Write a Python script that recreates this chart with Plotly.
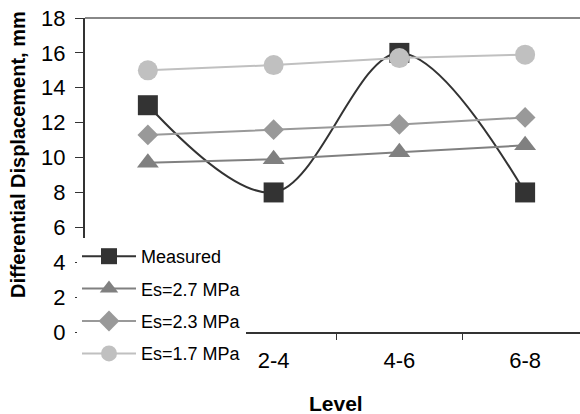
import plotly.graph_objects as go

levels = ["0-2", "2-4", "4-6", "6-8"]
measured = [13.0, 8.0, 16.0, 8.0]
es_27 = [9.7, 9.9, 10.3, 10.7]
es_23 = [11.3, 11.6, 11.9, 12.3]
es_17 = [15.0, 15.3, 15.7, 15.9]
y_ticks = [0, 2, 4, 6, 8, 10, 12, 14, 16, 18]

series = [
    ("Measured", measured, "#333333", "square", 20, "spline"),
    ("Es=2.7 MPa", es_27, "#808080", "triangle-up", 19, "linear"),
    ("Es=2.3 MPa", es_23, "#999999", "diamond", 16, "linear"),
    ("Es=1.7 MPa", es_17, "#C0C0C0", "circle", 20, "linear"),
]

fig = go.Figure()
for i, (name, vals, color, sym, size, shape) in enumerate(series):
    fig.add_trace(go.Scatter(
        x=levels, y=vals, name=name, mode="lines+markers",
        line=dict(color=color, width=2, shape=shape, smoothing=1.0),
        marker=dict(symbol=sym, size=size, color=color),
        legendgroup=f"g{i}",
    ))

W, H = 580, 414
L, T, B, R = 85, 18, 82, 0
PW, PH = W - L - R, H - T - B
FONT = "Liberation Sans, Arial, sans-serif"
fig.update_layout(
    width=W, height=H,
    margin=dict(l=L, r=R, t=T, b=B, pad=0),
    paper_bgcolor="white", plot_bgcolor="white",
    font=dict(family=FONT, size=21, color="black"),
    showlegend=True,
    legend=dict(
        x=(77 - L) / PW, y=(332 - 238) / PH,
        xanchor="left", yanchor="top",
        bgcolor="white", borderwidth=0,
        font=dict(family=FONT, size=18, color="black"),
        traceorder="grouped", tracegroupgap=6, itemwidth=54,
    ),
    xaxis=dict(
        type="category", range=[-0.5, 3.5 - 8 / 126],
        tickson="boundaries", ticks="outside", ticklen=6, tickcolor="#333333",
        showline=True, linecolor="#333333", linewidth=2,
        showgrid=False, zeroline=False, ticklabelstandoff=8,
        tickfont=dict(family=FONT, size=22, color="black"),
    ),
    yaxis=dict(
        range=[0, 18], tickvals=y_ticks, ticks="outside", ticklen=8,
        tickcolor="#333333", showline=True, linecolor="#333333", linewidth=2,
        showgrid=False, zeroline=False, ticklabelstandoff=5,
        tickfont=dict(family=FONT, size=22, color="black"),
    ),
    shapes=[dict(type="line", xref="paper", yref="paper", x0=0, x1=1, y0=1, y1=1,
                 line=dict(color="#888888", width=2))],
    annotations=[
        dict(text="<b>Differential Displacement, mm</b>", xref="paper", yref="paper",
             x=-(L - 18) / PW, y=(332 - 155) / PH, textangle=-90,
             showarrow=False, font=dict(family=FONT, size=20), xanchor="center", yanchor="middle"),
        dict(text="<b>Level</b>", xref="paper", yref="paper",
             x=(336 - L) / PW, y=-(403 - 332) / PH,
             showarrow=False, font=dict(family=FONT, size=21), xanchor="center", yanchor="middle"),
    ],
)
fig.write_html("out.html")
